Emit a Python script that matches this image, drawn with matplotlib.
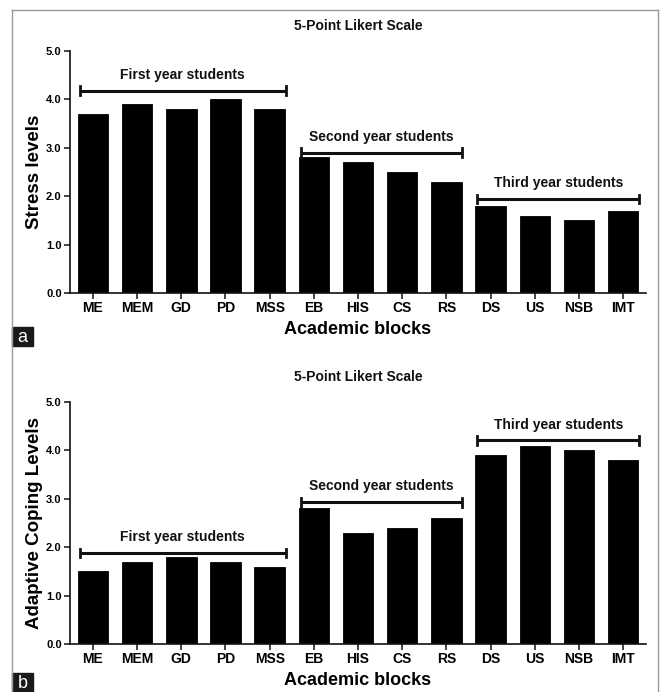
import matplotlib

matplotlib.use("Agg")
import matplotlib.pyplot as plt
from matplotlib.patches import Rectangle

# --- data -------------------------------------------------------------------
blocks = ["ME", "MEM", "GD", "PD", "MSS", "EB", "HIS", "CS", "RS", "DS", "US", "NSB", "IMT"]
stress = [3.7, 3.9, 3.8, 4.0, 3.8, 2.8, 2.7, 2.5, 2.3, 1.8, 1.6, 1.5, 1.7]
coping = [1.5, 1.7, 1.8, 1.7, 1.6, 2.8, 2.3, 2.4, 2.6, 3.9, 4.1, 4.0, 3.8]
groups = ["First year students", "Second year students", "Third year students"]
group_span = [(0, 4), (5, 8), (9, 12)]
yticks = [0.0, 1.0, 2.0, 3.0, 4.0, 5.0]

INK = "#111111"
FRAME = "#9a9a9a"

plt.rcParams.update({
    "font.family": ["Liberation Sans", "DejaVu Sans"],
    "font.weight": "bold",
    "text.color": INK,
})

fig = plt.figure(figsize=(6.6, 6.92), dpi=100)


def panel(rect, values, ylabel, bracket_y, letter, letter_y):
    ax = fig.add_axes(rect)
    x = range(len(blocks))
    ax.bar(x, values, width=0.69, color="black", edgecolor="black", linewidth=0.6)
    ax.set_xlim(-0.52, len(blocks) - 0.48)
    ax.set_ylim(0, 5)
    ax.set_yticks(yticks)
    ax.set_yticklabels([f"{v:.1f}" for v in yticks], fontsize=8, fontweight="bold")
    ax.set_xticks(list(x))
    ax.set_xticklabels(blocks, fontsize=10, fontweight="bold")
    for s in ("top", "right"):
        ax.spines[s].set_visible(False)
    for s in ("left", "bottom"):
        ax.spines[s].set_linewidth(1.2)
        ax.spines[s].set_color(INK)
    ax.tick_params(axis="both", direction="out", length=4, width=1.1, color=INK, pad=2)
    ax.set_title("5-Point Likert Scale", fontsize=10, fontweight="bold", pad=15)
    ax.set_xlabel("Academic blocks", fontsize=13, fontweight="bold", labelpad=4)
    ax.set_ylabel(ylabel, fontsize=13.5, fontweight="bold", labelpad=2)

    # group brackets
    for name, (i0, i1), by in zip(groups, group_span, bracket_y):
        x0, x1 = i0 - 0.3, i1 + 0.36
        ax.plot([x0, x1], [by, by], color=INK, lw=2.2, solid_capstyle="butt", clip_on=False)
        for xe in (x0, x1):
            ax.plot([xe, xe], [by - 0.09, by + 0.09], color=INK, lw=2.0, clip_on=False)
        ax.text((x0 + x1) / 2, by + 0.18, name, ha="center", va="bottom",
                fontsize=10, fontweight="bold")

    # panel letter box
    fig.patches.append(Rectangle((12 / 660, letter_y), 21 / 660, 19 / 692,
                                 transform=fig.transFigure, color="#1a1a1a"))
    fig.text(22.5 / 660, letter_y + 9 / 692, letter, color="white", fontsize=13,
             fontweight="normal", ha="center", va="center")
    return ax


panel([0.106, 0.5766, 0.873, 0.3497], stress, "Stress levels",
      [4.18, 2.90, 1.94], "a", 1 - 346 / 692)
panel([0.106, 0.0694, 0.873, 0.3497], coping, "Adaptive Coping Levels",
      [1.88, 2.93, 4.21], "b", 0.0)

# outer frame
fig.add_artist(plt.Line2D([12 / 660, 12 / 660], [0.0, 1 - 10 / 692],
                          transform=fig.transFigure, color=FRAME, lw=1.0))
fig.add_artist(plt.Line2D([12 / 660, 658 / 660], [1 - 10 / 692, 1 - 10 / 692],
                          transform=fig.transFigure, color=FRAME, lw=1.0))
fig.add_artist(plt.Line2D([658 / 660, 658 / 660], [0.0, 1 - 10 / 692],
                          transform=fig.transFigure, color=FRAME, lw=1.0))

fig.savefig("out.png", dpi=100)
